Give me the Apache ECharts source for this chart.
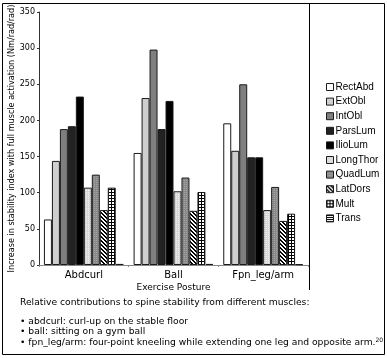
<!DOCTYPE html>
<html>
<head>
<meta charset="utf-8">
<script src="https://cdn.jsdelivr.net/npm/echarts@6/dist/echarts.min.js"></script>
<style>html,body{margin:0;padding:0;background:#fff}#c{width:387px;height:358px}</style>
</head>
<body>
<div id="c"></div>
<script>
const categories = ['Abdcurl', 'Ball', 'Fpn_leg/arm'];
const muscles = ['RectAbd', 'ExtObl', 'IntObl', 'ParsLum', 'IlioLum', 'LongThor', 'QuadLum', 'LatDors', 'Mult', 'Trans'];
const RectAbd = [63, 155, 196];
const ExtObl = [144, 231, 158];
const IntObl = [188, 298, 250];
const ParsLum = [192, 188, 149];
const IlioLum = [233, 227, 149];
const LongThor = [107, 102, 76];
const QuadLum = [125, 121, 108];
const LatDors = [76, 75, 61];
const Mult = [107, 101, 71];
const Trans = [1.5, 1.5, 1];
const yTicks = [0, 50, 100, 150, 200, 250, 300, 350];
const notes = [
  'Relative contributions to spine stability from different muscles:',
  '\u2022 abdcurl: curl-up on the stable floor',
  '\u2022 ball: sitting on a gym ball',
  '\u2022 fpn_leg/arm: four-point kneeling while extending one leg and opposite arm.'
];
const noteRef = '20';

const values = [RectAbd, ExtObl, IntObl, ParsLum, IlioLum, LongThor, QuadLum, LatDors, Mult, Trans];

function pat(size, bg, draw) {
  const c = document.createElement('canvas');
  c.width = c.height = size;
  const g = c.getContext('2d');
  g.fillStyle = bg; g.fillRect(0, 0, size, size);
  draw(g);
  return { image: c, repeat: 'repeat' };
}
const fills = [
  '#ffffff',
  '#cfcfcf',
  '#7f7f7f',
  '#222222',
  '#000000',
  pat(2, '#d6d6d6', g => { g.fillStyle = '#f4f4f4'; g.fillRect(0, 0, 1, 1); }),
  pat(2, '#888888', g => { g.fillStyle = '#a6a6a6'; g.fillRect(0, 0, 1, 1); }),
  pat(4, '#ffffff', g => { g.fillStyle = '#000'; for (let i = 0; i < 4; i++) { g.fillRect(i, i, 1, 1); g.fillRect((i + 1) % 4, i, 1, 1); } }),
  pat(3, '#000000', g => { g.fillStyle = '#fff'; g.fillRect(1, 1, 2, 2); }),
  pat(2, '#ffffff', g => { g.fillStyle = '#000'; g.fillRect(0, 0, 2, 1); })
];

const chart = echarts.init(document.getElementById('c'), null, { renderer: 'canvas' });
const series = muscles.map((m, i) => ({
  name: m,
  type: 'bar',
  data: values[i],
  barGap: '0%',
  barCategoryGap: '11%',
  itemStyle: { color: fills[i], borderColor: '#1a1a1a', borderWidth: 1 },
  emphasis: { disabled: true }
}));

chart.setOption({
  animation: false,
  backgroundColor: '#fff',
  grid: { left: 39, right: 79, top: 12, bottom: 93, containLabel: false, outerBoundsMode: 'none' },
  xAxis: {
    type: 'category',
    data: categories,
    name: 'Exercise Posture',
    nameLocation: 'middle',
    nameGap: 18,
    nameMoveOverlap: false,
    nameTextStyle: { fontFamily: 'DejaVu Sans', fontSize: 9, color: '#000' },
    axisLine: { lineStyle: { color: '#888', width: 1 } },
    axisTick: { show: true, length: 2, lineStyle: { color: '#888' } },
    axisLabel: { fontFamily: 'DejaVu Sans', fontSize: 10, color: '#000', margin: 5 }
  },
  yAxis: {
    type: 'value',
    min: 0, max: 350, interval: 50,
    name: 'Increase in stability index with full muscle activation (Nm/rad/rad)',
    nameLocation: 'middle',
    nameRotate: 90,
    nameGap: 23,
    nameMoveOverlap: false,
    nameTextStyle: { fontFamily: 'DejaVu Sans', fontSize: 8.1, color: '#000' },
    splitLine: { show: false },
    axisLine: { show: true, lineStyle: { color: '#333', width: 1 } },
    axisTick: { show: true, length: 2, lineStyle: { color: '#333' } },
    axisLabel: { fontFamily: 'DejaVu Sans', fontSize: 8, color: '#000', margin: 4,
      formatter: v => yTicks.includes(v) ? String(v) : '' }
  },
  legend: {
    orient: 'vertical',
    left: 321, top: 77,
    itemWidth: 7, itemHeight: 7,
    itemGap: 4.6,
    icon: 'rect',
    selectedMode: false,
    itemStyle: { borderColor: '#1a1a1a', borderWidth: 1 },
    textStyle: { fontFamily: 'Liberation Sans', fontSize: 10, color: '#000', padding: [0, 0, 0, -3] },
    data: muscles
  },
  graphic: [
    { type: 'rect', shape: { x: 2.5, y: 3.5, width: 382, height: 351 }, style: { fill: 'none', stroke: '#000', lineWidth: 1 }, silent: true },
    { type: 'line', shape: { x1: 309.5, y1: 3.5, x2: 309.5, y2: 290 }, style: { stroke: '#000', lineWidth: 1 }, silent: true },
    { type: 'text', left: 20, top: 298, style: { text: notes[0], font: '9.2px "DejaVu Sans"', fill: '#000' }, silent: true },
    { type: 'text', left: 20, top: 316, style: {
        text: notes[1] + '\n' + notes[2] + '\n' + notes[3] + '{s|' + noteRef + '}',
        font: '9.2px "DejaVu Sans"', fill: '#000', lineHeight: 10.5,
        rich: { s: { fontSize: 6, fontFamily: 'DejaVu Sans', verticalAlign: 'top', lineHeight: 10, padding: [0, 0, 4, 0] } }
      }, silent: true }
  ],
  series: series
});
</script>
</body>
</html>
